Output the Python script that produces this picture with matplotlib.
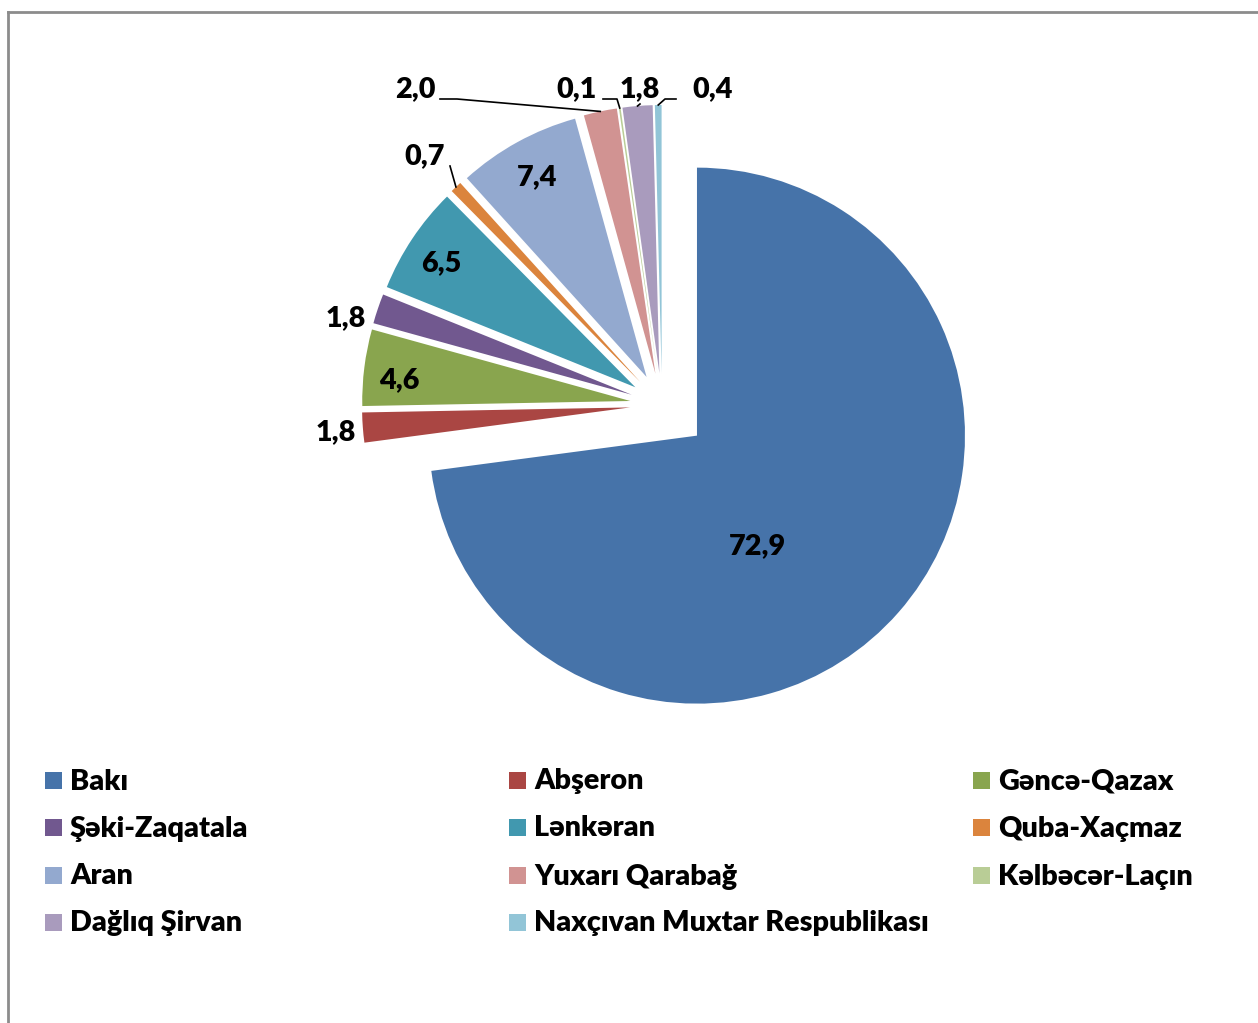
import numpy as np
import matplotlib.pyplot as plt
from matplotlib.patches import Rectangle
from matplotlib.lines import Line2D

plt.rcParams["font.family"] = ["Lato", "DejaVu Sans"]

# ── data ──────────────────────────────────────────────────────────────────────
REGIONS = ["Bakı", "Abşeron", "Gəncə-Qazax", "Şəki-Zaqatala", "Lənkəran",
           "Quba-Xaçmaz", "Aran", "Yuxarı Qarabağ", "Kəlbəcər-Laçın",
           "Dağlıq Şirvan", "Naxçıvan Muxtar Respublikası"]
SHARES = [72.9, 1.8, 4.6, 1.8, 6.5, 0.7, 7.4, 2.0, 0.1, 1.8, 0.4]
COLORS = ["#4673A9", "#AA4643", "#89A54E", "#71588F", "#4198AF", "#DB843D",
          "#93A9CF", "#D19392", "#B9CD96", "#A99BBD", "#92C5D7"]

# ── layout (pixel coords, y down) ────────────────────────────────────────────
W, H = 1258, 1023
CENTER = (662, 405)
RADIUS = 268
EXPLODE = [46.5] + [32] * 10
FS = 20.7
FW = "heavy"
DY = 1.5   # Lato sits a bit high with va="center"

# label centres for each slice value
LABEL_POS = [(757, 545), (336, 431), (399, 379), (346, 317), (441, 262),
             (425, 155), (537, 176), (415, 88), (577, 88), (640, 88),
             (713, 88)]
# leader lines: slice index -> points from label towards the slice
LEADERS = {5: [(450, 166)],
           7: [(440, 99), (457, 99)],
           8: [(603, 99), (617, 99)],
           9: [(640, 104)],
           10: [(676, 99), (665, 99)]}

fig = plt.figure(figsize=(W / 100, H / 100), dpi=100)
ax = fig.add_axes([0, 0, 1, 1])

# y axis inverted -> counterclock=True with startangle=-90 is clockwise from top
ax.pie(SHARES, colors=COLORS, explode=EXPLODE, radius=RADIUS, center=CENTER,
       startangle=-90, counterclock=True, wedgeprops=dict(linewidth=0))
ax.set_xlim(0, W)
ax.set_ylim(H, 0)
ax.set_aspect("auto")
ax.axis("off")

shares = np.array(SHARES)
mids = (np.cumsum(shares) - shares / 2) / shares.sum() * 2 * np.pi

for i, v in enumerate(SHARES):
    tx, ty = LABEL_POS[i]
    ax.text(tx, ty + DY, f"{v:.1f}".replace(".", ","), ha="center", va="center",
            fontsize=FS, fontweight=FW, color="black")
    if i in LEADERS:
        d = np.array([np.sin(mids[i]), -np.cos(mids[i])])
        anchor = np.array(CENTER) + d * (EXPLODE[i] + RADIUS)
        pts = LEADERS[i] + [tuple(anchor)]
        ax.plot([p[0] for p in pts], [p[1] for p in pts], color="black", lw=1.2)

# ── legend (3 columns, row-major) ─────────────────────────────────────────────
col_x = [45, 509, 973]
row_y = [780, 827, 875, 922]
for i, name in enumerate(REGIONS):
    r, c = divmod(i, 3)
    x0, y0 = col_x[c], row_y[r]
    ax.add_patch(Rectangle((x0, y0 - 8.5), 17, 17, color=COLORS[i], lw=0))
    ax.text(x0 + 25, y0 + DY, name, ha="left", va="center", fontsize=FS,
            fontweight=FW, color="black")

# chart-area frame (only left and top visible)
fig.add_artist(Line2D([8 / W, 8 / W], [0, 1 - 12 / H], transform=fig.transFigure,
                      color="#8C8C8C", lw=2))
fig.add_artist(Line2D([8 / W, 1], [1 - 12 / H, 1 - 12 / H], transform=fig.transFigure,
                      color="#8C8C8C", lw=2))

fig.savefig("out.png", dpi=100)
